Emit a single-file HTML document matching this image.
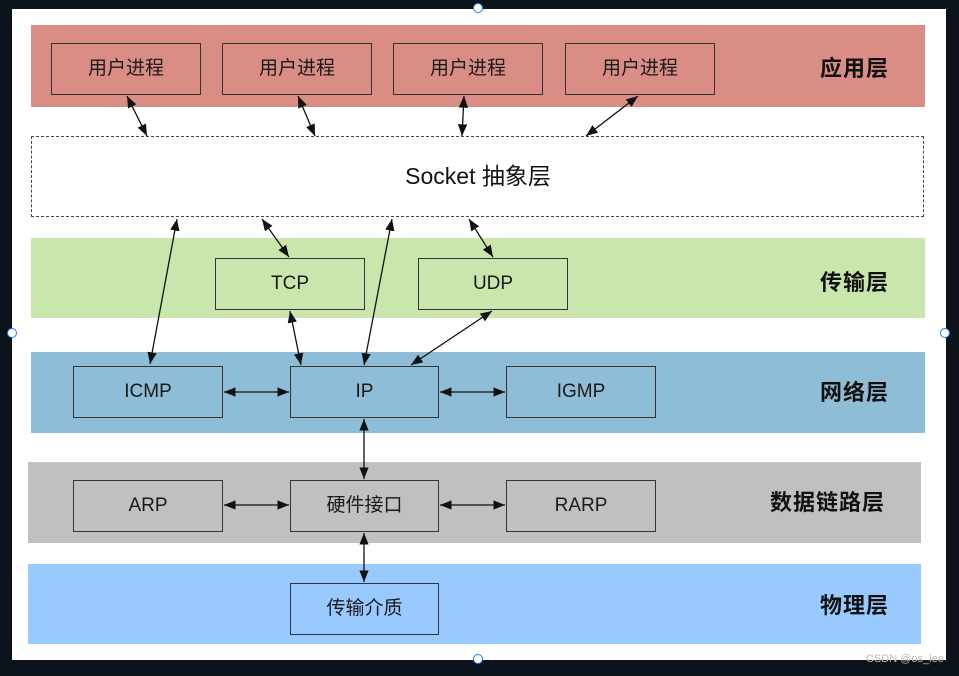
<!DOCTYPE html>
<html><head><meta charset="utf-8"><style>
body{margin:0;width:959px;height:676px;background:#0d131b;overflow:hidden;position:relative;font-family:"Liberation Sans","Noto Sans CJK SC",sans-serif}
.c{position:absolute;left:12px;top:9px;width:934px;height:651px;background:#fff}
.band{position:absolute}
.box{position:absolute;border:1.5px solid #333;box-sizing:border-box;display:flex;align-items:center;justify-content:center;font-size:19px;color:#1a1a1a}
.cj{padding-bottom:5px}
.lab{position:absolute;font-size:22px;font-weight:bold;color:#111;letter-spacing:1px;line-height:28px}
.h{position:absolute;width:8px;height:8px;border:1.5px solid #1a7cf5;border-radius:50%;background:#fff}
</style></head><body>
<div class="c"></div>
<div class="band" style="left:31px;top:25px;width:894px;height:82px;background:#d98d85"></div>
<div class="band" style="left:31px;top:136px;width:893px;height:81px;border:1.5px dashed #444;box-sizing:border-box"></div>
<div class="band" style="left:31px;top:238px;width:894px;height:80px;background:#c9e6ad"></div>
<div class="band" style="left:31px;top:352px;width:894px;height:81px;background:#8fbcd6"></div>
<div class="band" style="left:28px;top:462px;width:893px;height:81px;background:#c0c0c0"></div>
<div class="band" style="left:28px;top:564px;width:893px;height:80px;background:#99caff"></div>

<div class="box cj" style="left:51px;top:43px;width:150px;height:52px">用户进程</div>
<div class="box cj" style="left:222px;top:43px;width:150px;height:52px">用户进程</div>
<div class="box cj" style="left:393px;top:43px;width:150px;height:52px">用户进程</div>
<div class="box cj" style="left:565px;top:43px;width:150px;height:52px">用户进程</div>
<div style="position:absolute;left:31px;top:157px;width:894px;text-align:center;font-size:23px;color:#111">Socket 抽象层</div>
<div class="box" style="left:215px;top:258px;width:150px;height:52px">TCP</div>
<div class="box" style="left:418px;top:258px;width:150px;height:52px">UDP</div>
<div class="box" style="left:73px;top:366px;width:150px;height:52px">ICMP</div>
<div class="box" style="left:290px;top:366px;width:149px;height:52px">IP</div>
<div class="box" style="left:506px;top:366px;width:150px;height:52px">IGMP</div>
<div class="box" style="left:73px;top:480px;width:150px;height:52px">ARP</div>
<div class="box cj" style="left:290px;top:480px;width:149px;height:52px">硬件接口</div>
<div class="box" style="left:506px;top:480px;width:150px;height:52px">RARP</div>
<div class="box cj" style="left:290px;top:583px;width:149px;height:52px">传输介质</div>

<div class="lab" style="left:820px;top:55px">应用层</div>
<div class="lab" style="left:820px;top:269px">传输层</div>
<div class="lab" style="left:820px;top:379px">网络层</div>
<div class="lab" style="left:770px;top:489px">数据链路层</div>
<div class="lab" style="left:820px;top:592px">物理层</div>

<svg style="position:absolute;left:0;top:0" width="959" height="676">
<defs><marker id="a" viewBox="0 0 10 10" refX="10" refY="5" markerWidth="9" markerHeight="9" orient="auto-start-reverse"><path d="M0,1 L10,5 L0,9 z" fill="#111"/></marker></defs>
<g stroke="#111" stroke-width="1.3" marker-start="url(#a)" marker-end="url(#a)">
<line x1="127" y1="96" x2="147" y2="136"/>
<line x1="298" y1="96" x2="315" y2="136"/>
<line x1="464" y1="96" x2="462" y2="136"/>
<line x1="638" y1="96" x2="586" y2="136"/>
<line x1="177" y1="219" x2="150" y2="364"/>
<line x1="262" y1="219" x2="289" y2="257"/>
<line x1="392" y1="219" x2="364" y2="365"/>
<line x1="469" y1="219" x2="493" y2="257"/>
<line x1="290" y1="311" x2="301" y2="365"/>
<line x1="492" y1="311" x2="411" y2="365"/>
<line x1="224" y1="392" x2="289" y2="392"/>
<line x1="440" y1="392" x2="505" y2="392"/>
<line x1="364" y1="419" x2="364" y2="479"/>
<line x1="224" y1="505" x2="289" y2="505"/>
<line x1="440" y1="505" x2="505" y2="505"/>
<line x1="364" y1="533" x2="364" y2="582"/>
</g></svg>
<div class="h" style="left:473px;top:3px"></div>
<div class="h" style="left:473px;top:654px"></div>
<div class="h" style="left:7px;top:328px"></div>
<div class="h" style="left:940px;top:328px"></div>
<div style="position:absolute;left:866px;top:653px;font-size:11px;color:#bbb">CSDN @os_lee</div>
</body></html>
